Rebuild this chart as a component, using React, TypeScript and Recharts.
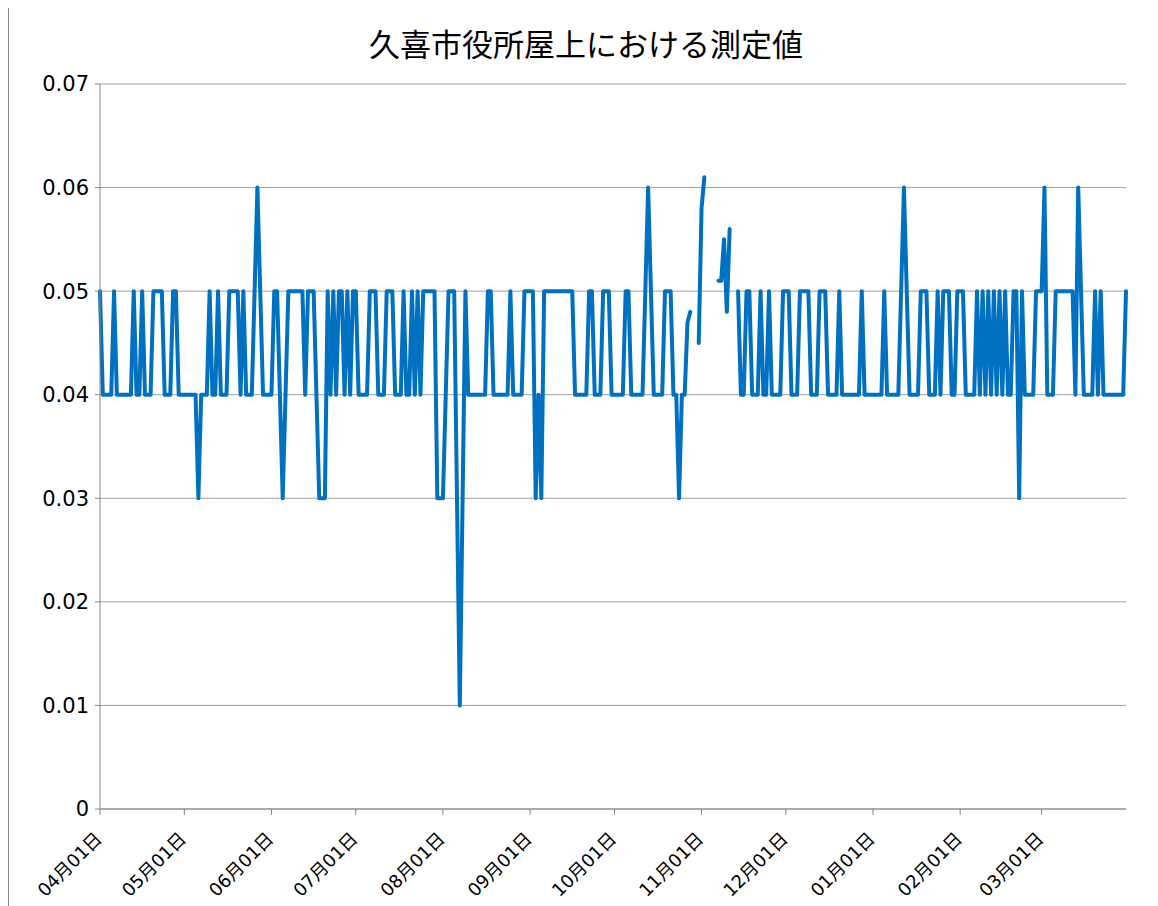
import React from 'react'
import { LineChart, Line, XAxis, YAxis, CartesianGrid } from 'recharts'

// daily readings, one array per month (Apr 2011 .. Mar 2012), null = no reading
const apr = [0.05, 0.04, 0.04, 0.04, 0.04, 0.05, 0.04, 0.04, 0.04, 0.04, 0.04, 0.04, 0.05, 0.04, 0.04, 0.05, 0.04, 0.04, 0.04, 0.05, 0.05, 0.05, 0.05, 0.04, 0.04, 0.04, 0.05, 0.05, 0.04, 0.04]
const may = [0.04, 0.04, 0.04, 0.04, 0.04, 0.03, 0.04, 0.04, 0.04, 0.05, 0.04, 0.04, 0.05, 0.04, 0.04, 0.04, 0.05, 0.05, 0.05, 0.05, 0.04, 0.05, 0.04, 0.04, 0.04, 0.05, 0.06, 0.05, 0.04, 0.04, 0.04]
const jun = [0.04, 0.05, 0.05, 0.04, 0.03, 0.04, 0.05, 0.05, 0.05, 0.05, 0.05, 0.05, 0.04, 0.05, 0.05, 0.05, 0.04, 0.03, 0.03, 0.03, 0.05, 0.04, 0.05, 0.04, 0.05, 0.05, 0.04, 0.05, 0.04, 0.05]
const jul = [0.05, 0.04, 0.04, 0.04, 0.04, 0.05, 0.05, 0.05, 0.04, 0.04, 0.04, 0.05, 0.05, 0.05, 0.04, 0.04, 0.04, 0.05, 0.04, 0.04, 0.05, 0.04, 0.05, 0.04, 0.05, 0.05, 0.05, 0.05, 0.05, 0.03, 0.03]
const aug = [0.03, 0.04, 0.05, 0.05, 0.05, 0.03, 0.01, 0.03, 0.05, 0.04, 0.04, 0.04, 0.04, 0.04, 0.04, 0.04, 0.05, 0.05, 0.04, 0.04, 0.04, 0.04, 0.04, 0.04, 0.05, 0.04, 0.04, 0.04, 0.04, 0.05, 0.05]
const sep = [0.05, 0.05, 0.03, 0.04, 0.03, 0.05, 0.05, 0.05, 0.05, 0.05, 0.05, 0.05, 0.05, 0.05, 0.05, 0.05, 0.04, 0.04, 0.04, 0.04, 0.04, 0.05, 0.05, 0.04, 0.04, 0.04, 0.05, 0.05, 0.05, 0.04]
const oct = [0.04, 0.04, 0.04, 0.04, 0.05, 0.05, 0.04, 0.04, 0.04, 0.04, 0.04, 0.05, 0.06, 0.05, 0.04, 0.04, 0.04, 0.04, 0.05, 0.05, 0.05, 0.04, 0.04, 0.03, 0.04, 0.04, 0.047, 0.048, null, null, 0.045]
const nov = [0.058, 0.061, null, null, null, null, 0.051, 0.051, 0.055, 0.048, 0.056, null, null, 0.05, 0.04, 0.04, 0.05, 0.05, 0.04, 0.04, 0.04, 0.05, 0.04, 0.04, 0.05, 0.04, 0.04, 0.04, 0.04, 0.05]
const dec = [0.05, 0.05, 0.04, 0.04, 0.04, 0.05, 0.05, 0.05, 0.05, 0.04, 0.04, 0.04, 0.05, 0.05, 0.05, 0.04, 0.04, 0.04, 0.04, 0.05, 0.04, 0.04, 0.04, 0.04, 0.04, 0.04, 0.04, 0.05, 0.04, 0.04, 0.04]
const jan = [0.04, 0.04, 0.04, 0.04, 0.05, 0.04, 0.04, 0.04, 0.04, 0.04, 0.05, 0.06, 0.05, 0.04, 0.04, 0.04, 0.04, 0.05, 0.05, 0.05, 0.04, 0.04, 0.04, 0.05, 0.04, 0.05, 0.05, 0.05, 0.04, 0.04, 0.05]
const feb = [0.05, 0.05, 0.04, 0.04, 0.04, 0.04, 0.05, 0.04, 0.05, 0.04, 0.05, 0.04, 0.05, 0.04, 0.05, 0.04, 0.05, 0.04, 0.04, 0.05, 0.05, 0.03, 0.05, 0.04, 0.04, 0.04, 0.04, 0.05, 0.05]
const mar = [0.05, 0.06, 0.04, 0.04, 0.04, 0.05, 0.05, 0.05, 0.05, 0.05, 0.05, 0.05, 0.04, 0.06, 0.05, 0.04, 0.04, 0.04, 0.04, 0.05, 0.04, 0.05, 0.04, 0.04, 0.04, 0.04, 0.04, 0.04, 0.04, 0.04, 0.05]

const monthTicks = [0, 30, 61, 91, 122, 153, 183, 214, 244, 275, 306, 335]
const monthLabels = ['04月01日', '05月01日', '06月01日', '07月01日', '08月01日', '09月01日', '10月01日', '11月01日', '12月01日', '01月01日', '02月01日', '03月01日']
const yTicks = [0, 0.01, 0.02, 0.03, 0.04, 0.05, 0.06, 0.07]

const data = [apr, may, jun, jul, aug, sep, oct, nov, dec, jan, feb, mar]
  .flat()
  .map((v, i) => ({ day: i, value: v }))

const FONT = '"Noto Sans CJK JP", "Noto Sans", sans-serif'
const TICK_FONT = '"DejaVu Sans", "Noto Sans CJK JP", sans-serif'

function DateTick(props: any) {
  const { x, y, payload } = props
  const label = monthLabels[monthTicks.indexOf(payload.value)]
  return (
    <g transform={`translate(${x + 3},${y + 23}) rotate(-45)`}>
      <text x={0} y={0} textAnchor="end" fill="#000" fontSize={18} fontFamily={TICK_FONT}>
        {label}
      </text>
    </g>
  )
}

export default function App() {
  return (
    <div style={{ position: 'relative', width: 1149, height: 898, borderLeft: '1px solid #868686', background: '#fff' }}>
      <div
        style={{
          position: 'absolute',
          left: 0,
          top: 19,
          width: 1154,
          textAlign: 'center',
          fontFamily: FONT,
          fontSize: 31,
          lineHeight: '31px',
          color: '#000',
        }}
      >
        久喜市役所屋上における測定値
      </div>
      <LineChart width={1149} height={898} data={data} margin={{ top: 76, right: 32, bottom: 7, left: 0 }}>
        <CartesianGrid vertical={false} stroke="#a0a0a0" strokeWidth={1} />
        <XAxis
          dataKey="day"
          type="number"
          domain={[0, 365]}
          ticks={monthTicks}
          interval={0}
          height={90}
          stroke="#868686"
          tickSize={6}
          tick={<DateTick />}
        />
        <YAxis
          domain={[0, 0.07]}
          ticks={yTicks}
          interval={0}
          width={91}
          stroke="#868686"
          tickSize={5}
          tickMargin={6}
          tick={{ fill: '#000', fontSize: 21, fontFamily: TICK_FONT }}
          tickFormatter={(v: number) => (v === 0 ? '0' : v.toFixed(2))}
        />
        <Line
          type="linear"
          dataKey="value"
          stroke="#0070c0"
          strokeWidth={4}
          strokeLinejoin="round"
          strokeLinecap="round"
          dot={false}
          activeDot={false}
          connectNulls={false}
          isAnimationActive={false}
        />
      </LineChart>
    </div>
  )
}
